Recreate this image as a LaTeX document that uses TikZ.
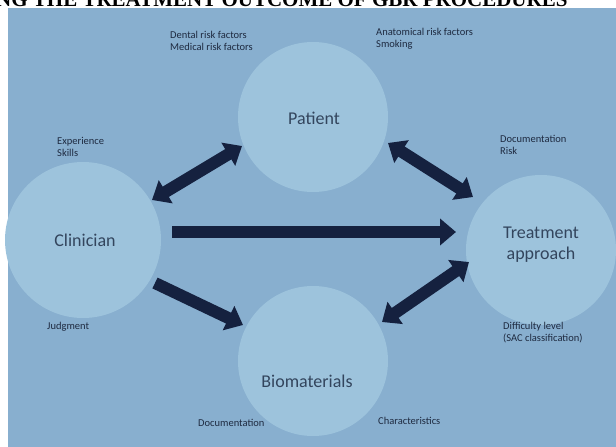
\documentclass[tikz,border=0pt]{standalone}
\usepackage{fontspec}
\setmainfont{Carlito}
\newfontfamily\titlefont{Liberation Serif}
\usetikzlibrary{arrows.meta}
\definecolor{bg}{HTML}{88AFCF}
\definecolor{circfill}{HTML}{9DC3DC}
\definecolor{arrcol}{HTML}{15213F}
\definecolor{txt}{HTML}{1E2A40}
\tikzset{
  bubble/.style={circle, fill=circfill, minimum size=150pt, inner sep=0pt},
  mainlbl/.style={font=\fontsize{18}{21}\selectfont, text=txt!80!bg, align=center},
  smalllbl/.style={font=\fontsize{10.5}{12}\selectfont, text=txt, align=left, inner sep=0pt},
  bigarrow/.style={draw=arrcol, line width=12pt, -{Triangle[length=16pt,width=26pt]}},
  dblarrow/.style={draw=arrcol, line width=12pt, {Triangle[length=16pt,width=26pt]}-{Triangle[length=16pt,width=26pt]}},
  plainarrow/.style={draw=arrcol, line width=12pt, -{Triangle[length=16pt,width=26pt]}}
}
\begin{document}
\begin{tikzpicture}[x=1pt,y=-1pt]
\useasboundingbox (0,0) rectangle (616,447);
\clip (0,0) rectangle (616,447);
\fill[white] (0,0) rectangle (616,447);
\node[anchor=base west, inner sep=0pt, font=\titlefont\bfseries\fontsize{21}{21}\selectfont] (title) at (-4,6) {NG THE TREATMENT OUTCOME OF GBR PROCEDURES};
\fill[bg] (8,8) rectangle (616,447);

% circles
\node[bubble] (pat) at (313,117) {};
\node[bubble, minimum size=156pt] (cli) at (83,240) {};
\node[bubble] (tre) at (541,250) {};
\node[bubble] (bio) at (313,361) {};

% main labels
\node[mainlbl] (patt) at (314,118) {Patient};
\node[mainlbl] (clit) at (85,240) {Clinician};
\node[mainlbl] (tret) at (541,245) {Treatment\\approach};
\node[mainlbl] (biot) at (307,381) {Biomaterials};

% small labels
\node[smalllbl, anchor=west] (l1) at (170,41) {Dental risk factors\\Medical risk factors};
\node[smalllbl, anchor=west] (l2) at (376,39) {Anatomical risk factors\\Smoking};
\node[smalllbl, anchor=west] (l3) at (57,147) {Experience\\Skills};
\node[smalllbl, anchor=west] (l4) at (500,145) {Documentation\\Risk};
\node[smalllbl, anchor=west] (l5) at (47,327) {Judgment};
\node[smalllbl, anchor=west] (l6) at (503,333) {Difficulty level\\(SAC classification)};
\node[smalllbl, anchor=west] (l7) at (198,423) {Documentation};
\node[smalllbl, anchor=west] (l8) at (378,421) {Characteristics};

% arrow end points
\coordinate (cp1) at (152,200);
\coordinate (cp2) at (242,146);
\coordinate (pt1) at (388,143);
\coordinate (pt2) at (473,197);
\coordinate (ct1) at (172,232);
\coordinate (ct2) at (456,232);
\coordinate (cb1) at (155,283);
\coordinate (cb2) at (243,325);
\coordinate (bt1) at (382,322);
\coordinate (bt2) at (469,262);

\draw[dblarrow] (cp1) -- (cp2);
\draw[dblarrow] (pt1) -- (pt2);
\draw[bigarrow] (ct1) -- (ct2);
\draw[plainarrow] (cb1) -- (cb2);
\draw[dblarrow] (bt1) -- (bt2);
\end{tikzpicture}
\end{document}
